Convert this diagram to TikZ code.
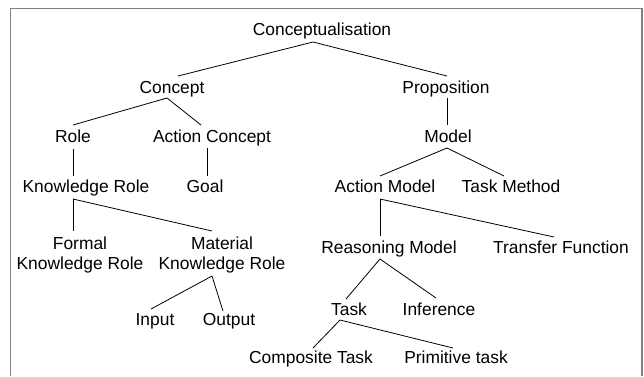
\documentclass[tikz,border=0pt]{standalone}
\usepackage{fontspec}
\setmainfont{Liberation Sans}
\tikzset{
  lbl/.style={anchor=base, inner sep=0pt, align=center, font=\fontsize{17.4}{20}\selectfont},
  link/.style={draw=black, line width=0.8pt},
  frame/.style={draw=black!50, line width=1.4pt}
}
\newcommand{\edgelink}[6]{\draw[link] ([shift={(#2,#3)}]#1.base) -- ([shift={(#5,#6)}]#4.base);}
\begin{document}
\begin{tikzpicture}[x=1pt,y=-1pt]
\useasboundingbox (0,0) rectangle (644,376);
\draw[frame] (10.5,376) -- (10.5,8.5) -- (642,8.5) -- (642,376);

\node[lbl] (conc) at (322,35) {Conceptualisation};
\node[lbl] (concept) at (172,93) {Concept};
\node[lbl] (prop) at (446,93) {Proposition};
\node[lbl] (role) at (73,142) {Role};
\node[lbl] (actc) at (212,142) {Action Concept};
\node[lbl] (model) at (448,142) {Model};
\node[lbl] (kr) at (86,192) {Knowledge Role};
\node[lbl] (goal) at (205,192) {Goal};
\node[lbl] (am) at (385,192) {Action Model};
\node[lbl] (tm) at (511,192) {Task Method};
\node[lbl] (fkr) at (80,269) {Formal\\Knowledge Role};
\node[lbl] (mkr) at (222,269) {Material\\Knowledge Role};
\node[lbl] (input) at (155,325) {Input};
\node[lbl] (output) at (229,325) {Output};
\node[lbl] (rm) at (389,253) {Reasoning Model};
\node[lbl] (tf) at (561,253) {Transfer Function};
\node[lbl] (task) at (349,315) {Task};
\node[lbl] (inf) at (439,315) {Inference};
\node[lbl] (ct) at (311,363) {Composite Task};
\node[lbl] (pt) at (456,363) {Primitive task};

\edgelink{conc}{-9}{7}{concept}{6}{-17}
\edgelink{conc}{-9}{7}{prop}{1}{-17}
\edgelink{concept}{-5}{5}{role}{0}{-17}
\edgelink{concept}{-5}{5}{actc}{-11}{-17}
\edgelink{role}{0}{7}{kr}{-13}{-16}
\edgelink{actc}{-5}{6}{goal}{2}{-16}
\edgelink{prop}{1}{5}{model}{-1}{-17}
\edgelink{model}{-1}{6}{am}{-5}{-16}
\edgelink{model}{-1}{6}{tm}{-7}{-16}
\edgelink{kr}{-13}{7}{fkr}{-7}{-38}
\edgelink{kr}{-13}{7}{mkr}{-10}{-38}
\edgelink{mkr}{-10}{7}{input}{-4}{-16}
\edgelink{mkr}{-10}{7}{output}{-6}{-14}
\edgelink{am}{-5}{7}{rm}{-9}{-17}
\edgelink{am}{-5}{7}{tf}{-7}{-16}
\edgelink{rm}{-9}{6}{task}{-3}{-16}
\edgelink{rm}{-9}{6}{inf}{-3}{-17}
\edgelink{task}{-9}{5}{ct}{2}{-15}
\edgelink{task}{-9}{5}{pt}{-3}{-15}
\end{tikzpicture}
\end{document}
